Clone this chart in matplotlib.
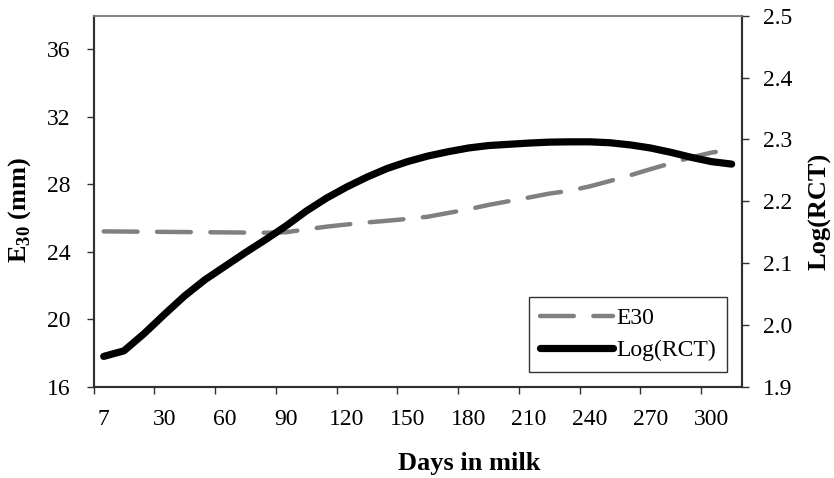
import matplotlib
matplotlib.use('Agg')
import matplotlib.pyplot as plt
import numpy as np

plt.rcParams['font.family'] = ['Liberation Serif', 'DejaVu Serif']
plt.rcParams['mathtext.fontset'] = 'custom'
plt.rcParams['mathtext.rm'] = 'Liberation Serif:bold'
plt.rcParams['mathtext.bf'] = 'Liberation Serif:bold'

# days in milk (categories of the Excel-style line chart)
days = [7, 10, 20, 30, 40, 50, 60, 70, 80, 90, 100, 110, 120, 130, 140, 150,
        160, 170, 180, 190, 200, 210, 220, 230, 240, 250, 260, 270, 280, 290,
        300, 310]
e30 = [25.21, 25.20, 25.19, 25.18, 25.17, 25.16, 25.15, 25.14, 25.13, 25.16,
       25.33, 25.49, 25.62, 25.74, 25.84, 25.95, 26.08, 26.30, 26.52, 26.78,
       27.00, 27.22, 27.45, 27.62, 27.88, 28.20, 28.54, 28.90, 29.25, 29.60,
       29.88, 30.06]
log_rct = [1.949, 1.958, 1.986, 2.017, 2.047, 2.073, 2.095, 2.117, 2.138,
           2.160, 2.184, 2.205, 2.223, 2.239, 2.253, 2.264, 2.273, 2.280,
           2.286, 2.290, 2.292, 2.294, 2.2955, 2.296, 2.296, 2.2945, 2.291,
           2.286, 2.279, 2.271, 2.264, 2.260]
label_days = [7, 30, 60, 90, 120, 150, 180, 210, 240, 270, 300]

x = np.arange(len(days))

fig = plt.figure(figsize=(8.34, 4.78), dpi=100)
ax = fig.add_axes([0.1122, 0.191, 0.7772, 0.7762])
ax2 = ax.twinx()

l1, = ax.plot(x, e30, color='#808080', lw=3.2, ls=(0, (7.6, 4.4)),
              dash_capstyle='round', label='E30')
l2, = ax2.plot(x, log_rct, color='black', lw=5.2, solid_capstyle='round',
               solid_joinstyle='round', label='Log(RCT)')

ax.set_xlim(-0.5, len(days) - 0.5)
ax.set_ylim(16, 38)
ax.set_yticks(np.arange(16, 37, 4))
ax2.set_ylim(1.9, 2.5)
ax2.set_yticks(np.arange(1.9, 2.51, 0.1))
ax2.set_yticklabels(['%.1f' % v for v in np.arange(1.9, 2.51, 0.1)])

# tick marks at category boundaries every 3 categories, labels at categories
ax.set_xticks(np.arange(-0.5, len(days) - 1, 3), minor=True)
ax.set_xticks([days.index(d) for d in label_days])
ax.set_xticklabels([str(d) for d in label_days])
ax.tick_params(axis='x', which='major', length=0, labelsize=17, pad=16)
ax.tick_params(axis='x', which='minor', length=5, width=1.0, direction='out',
               color='#303030')
ax.tick_params(axis='y', length=5, width=1.0, labelsize=17, pad=11.5,
               color='#303030')
ax2.tick_params(axis='y', length=5, width=1.0, labelsize=17, pad=10.5,
                color='#303030')

for a in (ax, ax2):
    a.spines['top'].set_color('#808080')
    a.spines['top'].set_linewidth(1.2)
    for s in ('left', 'right', 'bottom'):
        a.spines[s].set_color('#303030')
        a.spines[s].set_linewidth(1.5)

ax.set_ylabel(r'E$_{30}$ (mm)', fontsize=19, fontweight='bold', va='center')
ax.yaxis.set_label_coords(-0.1135, 0.476)
ax2.set_ylabel('Log(RCT)', fontsize=19, fontweight='bold', va='center')
ax2.yaxis.set_label_coords(1.1206, 0.472)
ax.set_xlabel('Days in milk', fontsize=19, fontweight='bold', va='center')
ax.xaxis.set_label_coords(0.579, -0.2057)

leg = ax2.legend([l1, l2], ['E30', 'Log(RCT)'], loc='lower right',
                 bbox_to_anchor=(0.977, 0.04), fontsize=17, frameon=True,
                 fancybox=False, edgecolor='black', handlelength=3.1,
                 handletextpad=0.15, borderpad=0.45, labelspacing=0.45,
                 borderaxespad=0)
leg.get_frame().set_linewidth(1.0)

fig.savefig('out.png', dpi=100)
